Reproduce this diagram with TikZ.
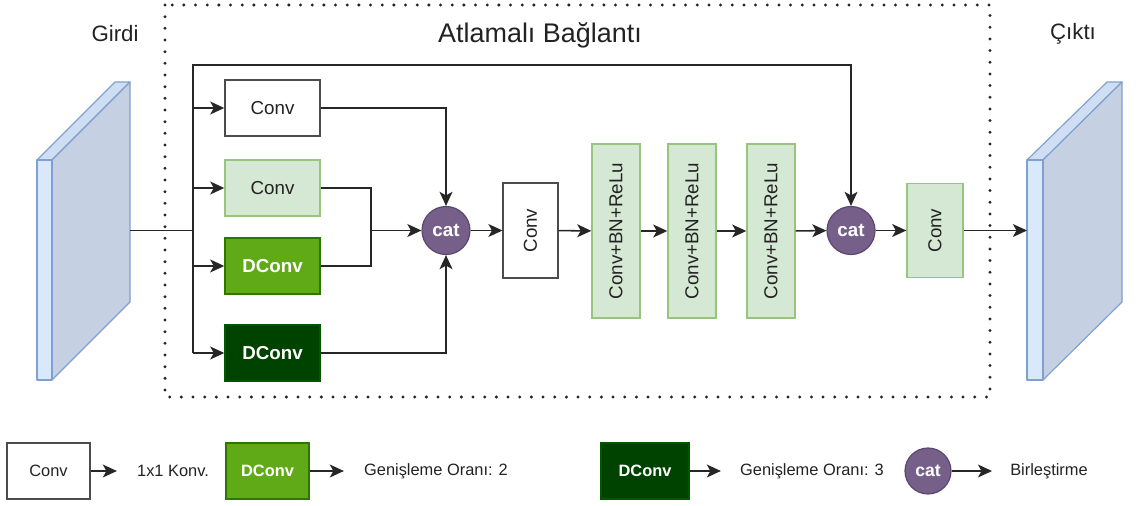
\documentclass[tikz,border=0pt]{standalone}
\usepackage{fontspec}
\setmainfont{Liberation Sans}
\usetikzlibrary{arrows.meta}
\definecolor{lgfill}{HTML}{D5E8D4}
\definecolor{lgdraw}{HTML}{97C47F}
\definecolor{mgfill}{HTML}{60A917}
\definecolor{mgdraw}{HTML}{2D7600}
\definecolor{dgfill}{HTML}{004200}
\definecolor{dgdraw}{HTML}{005700}
\definecolor{catfill}{HTML}{76608A}
\definecolor{catdraw}{HTML}{5A4670}
\definecolor{slabfront}{HTML}{DAE8FC}
\definecolor{slabside}{HTML}{C5D0E3}
\definecolor{slabtop}{HTML}{D0DEF4}
\definecolor{slabdraw}{HTML}{7FA0D0}
\definecolor{txt}{HTML}{222222}

\tikzset{
  box/.style={draw=black!70, line width=1.2pt, minimum width=2.85cm, minimum height=1.68cm,
    inner sep=0pt, text=txt, font=\fontsize{16}{18}\selectfont},
  lbox/.style={box, draw=lgdraw, fill=lgfill},
  mbox/.style={box, draw=mgdraw, fill=mgfill, text=white, font=\fontsize{16}{18}\selectfont\bfseries},
  dbox/.style={box, draw=dgdraw, fill=dgfill, text=white, font=\fontsize{16}{18}\selectfont\bfseries},
  tall/.style={minimum width=1.44cm, minimum height=5.22cm},
  catnode/.style={circle, draw=catdraw, fill=catfill, line width=1pt, minimum size=1.44cm, inner sep=0pt,
    text=white, font=\fontsize{16}{18}\selectfont\bfseries},
  legtext/.style={text=txt, font=\fontsize{14}{16}\selectfont, inner sep=0pt},
  arr/.style={-{Stealth[length=12pt,width=11pt,inset=3pt]}, line width=1.3pt, draw=black!85},
  ln/.style={line width=1.3pt, draw=black!85},
  slab/.style={draw=slabdraw, line width=1pt, line join=round},
}

\begin{document}
\begin{tikzpicture}[x=0.03cm, y=-0.03cm]
\useasboundingbox (0,0) rectangle (1148,506);

% dotted frame
\draw[line width=2.8pt, line cap=round, dash pattern=on 0pt off 0.35cm, black!85] (165,5) rectangle (990,397);
\node[text=txt, font=\fontsize{23}{26}\selectfont] (skip) at (540,35) {Atlamalı Bağlantı};
\node[text=txt, font=\fontsize{19}{22}\selectfont] (girdi) at (115,34) {Girdi};
\node[text=txt, font=\fontsize{19}{22}\selectfont] (cikti) at (1073,34) {Çıktı};

% input slab
\filldraw[slab, fill=slabtop] (37,160) -- (115,82) -- (130,82) -- (52,160) -- cycle;
\filldraw[slab, fill=slabside] (52,160) -- (130,82) -- (130,302) -- (52,380) -- cycle;
\filldraw[slab, fill=slabfront] (37,160) rectangle (52,380);
% output slab
\filldraw[slab, fill=slabtop] (1027,160) -- (1107,82) -- (1122,82) -- (1043,160) -- cycle;
\filldraw[slab, fill=slabside] (1043,160) -- (1122,82) -- (1122,302) -- (1043,380) -- cycle;
\filldraw[slab, fill=slabfront] (1027,160) rectangle (1043,380);

\coordinate (in) at (130,230.5);
\coordinate (sp) at (193,230.5);
\coordinate (top) at (193,65);
\coordinate (mg) at (371,230.5);
\coordinate (out) at (1027,230.5);

% branches
\node[box] (c1) at (272.5,108) {Conv};
\node[lbox] (c2) at (272.5,188) {Conv};
\node[mbox] (d2) at (272.5,266) {DConv};
\node[dbox] (d3) at (272.5,353) {DConv};
\node[catnode] (cat1) at (446,230.5) {cat};
\node[box, minimum width=1.64cm, minimum height=2.84cm] (cv) at (530.5,230.5) {\rotatebox{90}{Conv}};
\node[lbox, tall] (b1) at (616,231) {\rotatebox{90}{Conv+BN+ReLu}};
\node[lbox, tall] (b2) at (692,231) {\rotatebox{90}{Conv+BN+ReLu}};
\node[lbox, tall] (b3) at (771,231) {\rotatebox{90}{Conv+BN+ReLu}};
\node[catnode] (cat2) at (851,230.5) {cat};
\node[lbox, minimum width=1.68cm, minimum height=2.82cm] (cv2) at (935,230.5) {\rotatebox{90}{Conv}};

\draw[ln] (in) -- (sp) -- (sp |- d3);
\draw[arr] (sp) -- (top) -| (cat2);
\draw[arr] (sp |- c1) -- (c1);
\draw[arr] (sp |- c2) -- (c2);
\draw[arr] (sp |- d2) -- (d2);
\draw[arr] (sp |- d3) -- (d3);
\draw[arr] (c1) -| (cat1);
\draw[arr] (d3) -| (cat1);
\draw[ln] (c2.east) -| (mg) |- (d2.east);
\draw[arr] (mg) -- (cat1);
\draw[arr] (cat1) -- (cv);
\draw[arr] (cv) -- (b1);
\draw[arr] (b1) -- (b2);
\draw[arr] (b2) -- (b3);
\draw[arr] (b3) -- (cat2);
\draw[arr] (cat2) -- (cv2);
\draw[arr] (cv2) -- (out);

% legend
\node[box, minimum width=2.49cm, font=\fontsize{14}{16}\selectfont] (lc) at (48.5,471) {Conv};
\node[legtext] (lct) at (173,471) {1x1 Konv.};
\node[mbox, minimum width=2.49cm, font=\fontsize{14}{16}\selectfont\bfseries] (ld2) at (267.5,471) {DConv};
\node[legtext] (ld2t) at (436,471) {Genişleme Oranı: 2};
\node[dbox, minimum width=2.64cm, font=\fontsize{14}{16}\selectfont\bfseries] (ld3) at (645,471) {DConv};
\node[legtext] (ld3t) at (812,471) {Genişleme Oranı: 3};
\node[catnode, minimum size=1.38cm, font=\fontsize{15}{16}\selectfont\bfseries] (lcat) at (928,471) {cat};
\node[legtext] (lcatt) at (1049,471) {Birleştirme};

\draw[arr, shorten >=0.6cm] (lc) -- (lct);
\draw[arr, shorten >=0.6cm] (ld2) -- (ld2t);
\draw[arr, shorten >=0.57cm] (ld3) -- (ld3t);
\draw[arr, shorten >=0.54cm] (lcat) -- (lcatt);
\end{tikzpicture}
\end{document}
